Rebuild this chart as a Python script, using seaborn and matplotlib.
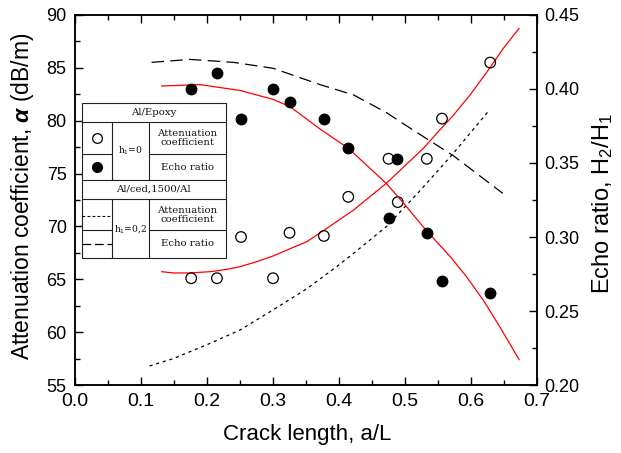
import matplotlib
matplotlib.use('Agg')
import matplotlib.pyplot as plt
import seaborn as sns
from matplotlib.patches import Rectangle
from matplotlib.lines import Line2D
from matplotlib.ticker import MultipleLocator, FormatStrFormatter

# ---------------- data ----------------
# measured points, Al/Epoxy, h1 = 0
att_crack = [0.176, 0.215, 0.2515, 0.300, 0.325, 0.377, 0.414, 0.475, 0.489, 0.533, 0.556, 0.629]
att_coef = [65.1, 65.1, 69.0, 65.1, 69.4, 69.1, 72.8, 76.4, 72.3, 76.4, 80.2, 85.5]
echo_crack = [0.175, 0.215, 0.251, 0.300, 0.325, 0.377, 0.414, 0.475, 0.488, 0.533, 0.556, 0.629]
echo_ratio = [0.400, 0.411, 0.380, 0.400, 0.391, 0.380, 0.360, 0.313, 0.353, 0.303, 0.270, 0.262]

# red fitted curves (h1 = 0)
fit_att_x = [0.131, 0.149, 0.174, 0.205, 0.230, 0.250, 0.275, 0.300, 0.326, 0.351,
             0.374, 0.422, 0.472, 0.528, 0.548, 0.573, 0.598, 0.624, 0.649, 0.673]
fit_att_y = [65.72, 65.6, 65.6, 65.72, 65.94, 66.19, 66.66, 67.2, 67.9, 68.55,
             69.5, 71.55, 74.1, 77.4, 78.8, 80.5, 82.4, 84.6, 86.85, 88.75]
fit_echo_x = [0.131, 0.189, 0.250, 0.300, 0.326, 0.371, 0.414, 0.472, 0.4975, 0.533,
              0.568, 0.5935, 0.619, 0.644, 0.673]
fit_echo_y = [0.402, 0.403, 0.399, 0.393, 0.388, 0.373, 0.360, 0.336, 0.323, 0.304,
              0.287, 0.273, 0.257, 0.239, 0.217]

# Al/ced,1500/Al, h1 = 0.2 curves
ced_att_x = [0.113, 0.149, 0.1995, 0.250, 0.300, 0.351, 0.3965, 0.422, 0.472, 0.523, 0.573, 0.625]
ced_att_y = [56.8, 57.5, 58.8, 60.2, 62.1, 64.1, 66.2, 67.45, 70.0, 73.4, 76.9, 80.8]
ced_echo_x = [0.116, 0.174, 0.240, 0.300, 0.371, 0.422, 0.472, 0.513, 0.573, 0.648]
ced_echo_y = [0.418, 0.420, 0.418, 0.414, 0.403, 0.396, 0.384, 0.372, 0.355, 0.3295]

# ---------------- style ----------------
sns.set_style('ticks')
plt.rcParams['font.family'] = ['Liberation Sans', 'DejaVu Sans']
plt.rcParams['mathtext.fontset'] = 'custom'
plt.rcParams['mathtext.rm'] = 'Liberation Sans'
plt.rcParams['mathtext.it'] = 'Liberation Sans:italic'
plt.rcParams['mathtext.bf'] = 'Liberation Sans:bold:italic'
plt.rcParams['axes.linewidth'] = 1.1
for k in ('text.color', 'axes.labelcolor', 'xtick.color', 'ytick.color', 'axes.edgecolor'):
    plt.rcParams[k] = 'black'

fig = plt.figure(figsize=(6.21, 4.53), dpi=100)
ax = fig.add_axes([0.1208, 0.1501, 0.7440, 0.8168])
ax2 = ax.twinx()

# curves
sns.lineplot(x=fit_att_x, y=fit_att_y, ax=ax, color='red', lw=0.9, estimator=None)
sns.lineplot(x=ced_att_x, y=ced_att_y, ax=ax, color='black', lw=0.9,
             linestyle=(0, (2.5, 3)), estimator=None)
sns.lineplot(x=fit_echo_x, y=fit_echo_y, ax=ax2, color='red', lw=0.9, estimator=None)
sns.lineplot(x=ced_echo_x, y=ced_echo_y, ax=ax2, color='black', lw=0.9,
             linestyle=(0, (10, 5)), estimator=None)

# points
sns.scatterplot(x=att_crack, y=att_coef, ax=ax, marker='o', s=58,
                edgecolor='black', linewidth=0.9, zorder=4)
ax.collections[-1].set_facecolor('none')
sns.scatterplot(x=echo_crack, y=echo_ratio, ax=ax2, marker='o', s=58,
                color='black', edgecolor='black', linewidth=0.9, zorder=4)

# axes limits / ticks
ax.set_xlim(0.0, 0.7)
ax.set_ylim(55, 90)
ax2.set_ylim(0.20, 0.45)
ax.xaxis.set_major_locator(MultipleLocator(0.1))
ax.xaxis.set_minor_locator(MultipleLocator(0.05))
ax.xaxis.set_major_formatter(FormatStrFormatter('%.1f'))
ax.yaxis.set_major_locator(MultipleLocator(5))
ax.yaxis.set_minor_locator(MultipleLocator(2.5))
ax2.yaxis.set_major_locator(MultipleLocator(0.05))
ax2.yaxis.set_minor_locator(MultipleLocator(0.025))
ax2.yaxis.set_major_formatter(FormatStrFormatter('%.2f'))

ax.tick_params(axis='x', which='both', direction='in', top=True, bottom=True,
               labelsize=14, pad=6, width=1, colors='black')
ax.tick_params(axis='y', which='both', direction='in', left=True, right=False,
               labelsize=13, pad=6, width=1, colors='black')
ax2.tick_params(axis='y', which='both', direction='in', right=True,
                labelsize=13, pad=5, width=1, colors='black')
for a in (ax, ax2):
    a.tick_params(which='major', length=6)
    a.tick_params(which='minor', length=3.5)
    for s in a.spines.values():
        s.set_visible(True)
        s.set_color('black')
        s.set_linewidth(1.1)

ax.set_xlabel('Crack length, a/L', fontsize=16, color='black')
ax.set_ylabel('Attenuation coefficient, $\\mathbf{\\alpha}$ (dB/m)', fontsize=16.5, color='black')
ax2.set_ylabel('Echo ratio, H$_2$/H$_1$', fontsize=17, color='black')
ax.xaxis.set_label_coords(0.503, -0.105)
ax.yaxis.set_label_coords(-0.085, 0.51)
ax2.yaxis.set_label_coords(1.115, 0.49)

# ---------------- table-style legend ----------------
T = ax2.transAxes
x0, xa, xb, x1 = 0.0145, 0.0794, 0.1608, 0.3262
ys = [0.7614, 0.7116, 0.6235, 0.554, 0.5019, 0.4189, 0.344]
lc = '#222222'
lw = 0.8
ax2.add_patch(Rectangle((x0, ys[6]), x1 - x0, ys[0] - ys[6], transform=T,
                        facecolor='white', edgecolor=lc, lw=lw, zorder=10))
def hline(y, xs, xe):
    ax2.add_line(Line2D([xs, xe], [y, y], transform=T, color=lc, lw=lw, zorder=11))
def vline(x, ya, yb):
    ax2.add_line(Line2D([x, x], [ya, yb], transform=T, color=lc, lw=lw, zorder=11))
for y in (ys[1], ys[3], ys[4]):
    hline(y, x0, x1)
for y in (ys[2], ys[5]):
    hline(y, x0, xa)
    hline(y, xb, x1)
for x in (xa, xb):
    vline(x, ys[3], ys[1])
    vline(x, ys[6], ys[4])

tf = dict(transform=T, fontsize=7.3, family=['DejaVu Serif'], ha='center', va='center',
          zorder=12, color='#111111')
hf = dict(tf, fontsize=6.6)
cx_sym = (x0 + xa) / 2
cx_h = (xa + xb) / 2
cx_txt = (xb + x1) / 2
cx_all = (x0 + x1) / 2
mid = lambda a, b: (a + b) / 2
ax2.text(cx_all, mid(ys[0], ys[1]), 'Al/Epoxy', **tf)
ax2.text(cx_txt, mid(ys[1], ys[2]), 'Attenuation\ncoefficient', linespacing=1.0, **tf)
ax2.text(cx_txt, mid(ys[2], ys[3]), 'Echo ratio', **tf)
ax2.text(cx_h, mid(ys[1], ys[3]), 'h$_1$=0', **hf)
ax2.text(cx_all, mid(ys[3], ys[4]), 'Al/ced,1500/Al', **tf)
ax2.text(cx_txt, mid(ys[4], ys[5]), 'Attenuation\ncoefficient', linespacing=1.0, **tf)
ax2.text(cx_txt, mid(ys[5], ys[6]), 'Echo ratio', **tf)
ax2.text(cx_h, mid(ys[4], ys[6]), 'h$_1$=0,2', **hf)

ax2.add_line(Line2D([cx_sym], [mid(ys[1], ys[2])], transform=T, marker='o', ms=7,
                    mfc='none', mec='black', mew=0.9, ls='none', zorder=12))
ax2.add_line(Line2D([cx_sym], [mid(ys[2], ys[3])], transform=T, marker='o', ms=7,
                    mfc='black', mec='black', ls='none', zorder=12))
ax2.add_line(Line2D([x0, xa], [0.457, 0.457], transform=T, color='black', lw=0.8,
                    ls=(0, (2.5, 2)), zorder=12))
ax2.add_line(Line2D([x0, xa], [0.381, 0.381], transform=T, color='black', lw=0.9,
                    ls=(0, (7, 3)), zorder=12))

fig.savefig('out.png', dpi=100)
